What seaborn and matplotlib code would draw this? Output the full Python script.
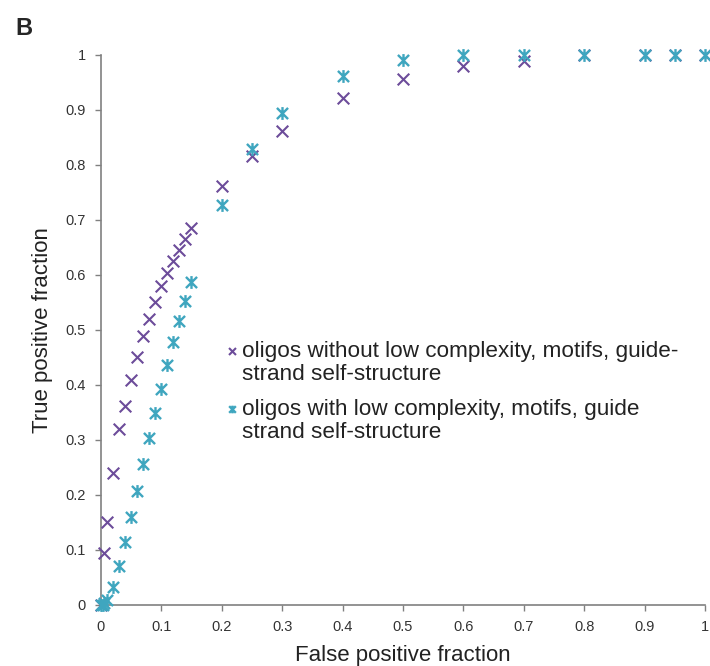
import numpy as np
import pandas as pd
import seaborn as sns
import matplotlib.pyplot as plt
from matplotlib.path import Path

# ROC points
fpf_without = [0.0, 0.005, 0.01, 0.02, 0.03, 0.04, 0.05, 0.06, 0.07, 0.08, 0.09, 0.10,
               0.11, 0.12, 0.13, 0.14, 0.15, 0.20, 0.25, 0.30, 0.40, 0.50, 0.60,
               0.70, 0.80, 0.90, 0.95, 1.0]
tpf_without = [0.0, 0.094, 0.151, 0.239, 0.32, 0.361, 0.409, 0.451, 0.489, 0.519, 0.551, 0.579,
               0.603, 0.624, 0.645, 0.664, 0.685, 0.762, 0.815, 0.861, 0.921, 0.956, 0.979,
               0.988, 1.0, 1.0, 1.0, 1.0]

fpf_with = [0.0, 0.003, 0.006, 0.01, 0.02, 0.03, 0.04, 0.05, 0.06, 0.07, 0.08, 0.09, 0.10,
            0.11, 0.12, 0.13, 0.14, 0.15, 0.20, 0.25, 0.30, 0.40, 0.50, 0.60,
            0.70, 0.80, 0.90, 0.95, 1.0]
tpf_with = [0.0, 0.0, 0.004, 0.008, 0.033, 0.071, 0.114, 0.159, 0.207, 0.255, 0.303, 0.348, 0.392,
            0.436, 0.477, 0.515, 0.553, 0.586, 0.727, 0.828, 0.894, 0.962, 0.991, 1.0,
            1.0, 1.0, 1.0, 1.0, 1.0]

lab_without = "oligos without low complexity, motifs, guide-\nstrand self-structure"
lab_with = "oligos with low complexity, motifs, guide\nstrand self-structure"

df_without = pd.DataFrame({"fpf": fpf_without, "tpf": tpf_without})
df_with = pd.DataFrame({"fpf": fpf_with, "tpf": tpf_with})

purple = "#6c4c9a"
cyan = "#3fa6bf"

# Excel-style "star": an x with a vertical bar through it
star = Path([(-1, -1), (1, 1), (-1, 1), (1, -1), (0, -1.15), (0, 1.15)],
            [Path.MOVETO, Path.LINETO, Path.MOVETO, Path.LINETO, Path.MOVETO, Path.LINETO])

sns.set_style("white")
plt.rcParams["font.family"] = ["Liberation Sans", "DejaVu Sans"]

fig = plt.figure(figsize=(7.1, 6.66), dpi=100)
ax = fig.add_axes([0.142, 0.092, 0.851, 0.826])

sns.scatterplot(data=df_without, x="fpf", y="tpf", color=purple, marker="x",
                s=70, linewidth=1.5, ax=ax, clip_on=False, zorder=3, label=lab_without)
sns.scatterplot(data=df_with, x="fpf", y="tpf", color=cyan, edgecolor=cyan, marker=star,
                s=85, linewidth=1.7, ax=ax, clip_on=False, zorder=4, label=lab_with)

ax.set_xlim(0, 1)
ax.set_ylim(0, 1)
ticks = np.round(np.arange(0, 1.01, 0.1), 1)
ticklabels = ["0"] + [f"{t:g}" for t in ticks[1:-1]] + ["1"]
ax.set_xticks(ticks)
ax.set_xticklabels(ticklabels)
ax.set_yticks(ticks)
ax.set_yticklabels(ticklabels)
ax.tick_params(axis="both", direction="out", length=4, width=1, color="#808080",
               labelsize=10.5, labelcolor="#333333", pad=7, bottom=True, left=True)
for side in ["top", "right"]:
    ax.spines[side].set_visible(False)
for side in ["left", "bottom"]:
    ax.spines[side].set_color("#808080")
    ax.spines[side].set_linewidth(1.2)

ax.set_xlabel("False positive fraction", fontsize=16, color="#222222", labelpad=8)
ax.set_ylabel("True positive fraction", fontsize=16, color="#222222", labelpad=9)

handles, labels = ax.get_legend_handles_labels()
leg = ax.legend(handles, labels, loc="upper left", bbox_to_anchor=(0.2, 0.479),
                frameon=False, fontsize=16.2, handletextpad=0.0, labelspacing=0.62,
                handlelength=0.9, markerscale=0.6, borderpad=0, borderaxespad=0,
                scatterpoints=1, scatteryoffsets=[1.25])
for t in leg.get_texts():
    t.set_linespacing(1.12)
    t.set_color("#222222")

fig.text(0.021, 0.975, "B", fontsize=17, fontweight="bold", va="top")

fig.savefig("out.png", dpi=100)
